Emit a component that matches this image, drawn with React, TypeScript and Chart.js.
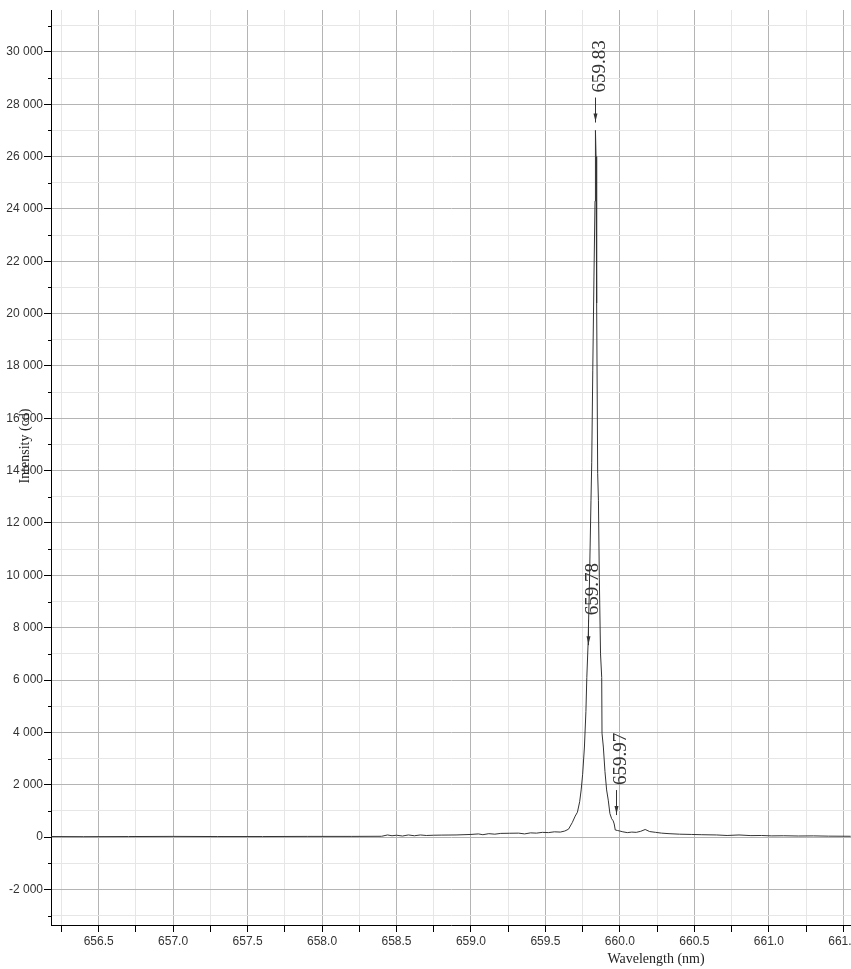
import { useEffect, useRef } from 'react';
import { Chart, registerables } from 'chart.js';

Chart.register(...registerables);

// Spectrum (wavelength in nm, intensity in counts)
const wavelengths = [
  656.18, 656.4, 656.7, 657.0, 657.3, 657.6, 657.9, 658.2, 658.4, 658.44,
  658.47, 658.5, 658.54, 658.58, 658.62, 658.66, 658.7, 658.75, 658.8, 658.9,
  659.0, 659.05, 659.08, 659.12, 659.16, 659.2, 659.26, 659.32, 659.36, 659.4,
  659.44, 659.48, 659.52, 659.56, 659.6, 659.63, 659.655, 659.68, 659.7, 659.715,
  659.73, 659.74, 659.75, 659.762, 659.772, 659.778, 659.786, 659.795, 659.806, 659.811,
  659.818, 659.826, 659.833, 659.836, 659.84, 659.844, 659.851, 659.856, 659.862, 659.87,
  659.878, 659.88, 659.889, 659.9, 659.911, 659.922, 659.933, 659.945, 659.955, 659.962,
  659.969, 659.985, 660.0, 660.02, 660.05, 660.08, 660.11, 660.14, 660.17, 660.2,
  660.24, 660.28, 660.33, 660.4, 660.48, 660.55, 660.65, 660.72, 660.8, 660.88,
  660.95, 661.02, 661.1, 661.2, 661.3, 661.4, 661.55,
];
const intensities = [
  20, 15, 20, 25, 20, 20, 25, 25, 30, 80,
  50, 70, 40, 80, 50, 80, 60, 70, 75, 80,
  100, 120, 90, 130, 110, 140, 145, 150, 120, 160,
  150, 180, 170, 200, 190, 230, 300, 550, 800, 950,
  1350, 1800, 2400, 3440, 4800, 6100, 7300, 9500, 12870, 14300,
  17840, 21400, 24300, 27000, 26000, 20400, 13900, 12870, 9930, 7000,
  6100, 3970, 3440, 2500, 1800, 1410, 900, 700, 620, 500,
  270, 250, 230, 200, 170, 190, 180, 220, 290, 210,
  180, 150, 130, 110, 100, 90, 80, 60, 80, 55,
  60, 45, 50, 40, 45, 35, 30,
];

// Peak markers
const peakLabels = ['659.83', '659.78', '659.97'];
const peakWavelengths = [659.833, 659.786, 659.972];
const peakIntensities = [27300, 7330, 840];

// Axes
const xMin = 656.18;
const xMax = 661.552;
const xStep = 0.25;
const xLabelStep = 0.5;
const yMin = -3360;
const yMax = 31600;
const yStep = 1000;
const yLabelStep = 2000;

const xTitle = 'Wavelength (nm)';
const yTitle = 'Intensity (cd)';

const MAJOR_GRID = '#b4b4b4';
const MINOR_GRID = '#e6e6e6';

function isMultiple(v: number, step: number) {
  const r = v / step;
  return Math.abs(r - Math.round(r)) < 1e-6;
}

function formatThousands(v: number) {
  const sign = v < 0 ? '-' : '';
  const a = Math.abs(Math.round(v));
  if (a < 1000) return sign + String(a);
  const th = Math.floor(a / 1000);
  const rest = String(a % 1000).padStart(3, '0');
  return sign + th + ' ' + rest;
}

function stepTicks(scale: any, step: number) {
  const out: { value: number }[] = [];
  const k0 = Math.ceil(scale.min / step - 1e-9);
  const k1 = Math.floor(scale.max / step + 1e-9);
  for (let k = k0; k <= k1; k++) out.push({ value: Math.round(k * step * 1000) / 1000 });
  scale.ticks = out;
}

const overlayPlugin = {
  id: 'overlay',
  afterDatasetsDraw(chart: any) {
    const ctx = chart.ctx as CanvasRenderingContext2D;
    const xs = chart.scales.x;
    const ys = chart.scales.y;
    const area = chart.chartArea;
    ctx.save();
    // minor y ticks (short)
    ctx.strokeStyle = '#000';
    ctx.lineWidth = 1;
    ys.ticks.forEach((t: any) => {
      if (!isMultiple(t.value, yLabelStep)) {
        const py = Math.round(ys.getPixelForValue(t.value)) + 0.5;
        ctx.beginPath();
        ctx.moveTo(area.left - 3, py);
        ctx.lineTo(area.left, py);
        ctx.stroke();
      }
    });

    // peak markers
    const arrowLen = 25;
    const gap = 5;
    peakLabels.forEach((label, i) => {
      const px = Math.round(xs.getPixelForValue(peakWavelengths[i])) + 0.5;
      const py = ys.getPixelForValue(peakIntensities[i]);
      const top = py - arrowLen;
      ctx.strokeStyle = '#333';
      ctx.fillStyle = '#333';
      ctx.lineWidth = 1;
      ctx.beginPath();
      ctx.moveTo(px, top);
      ctx.lineTo(px, py);
      ctx.stroke();
      ctx.beginPath();
      ctx.moveTo(px - 2, py - 9);
      ctx.lineTo(px + 2, py - 9);
      ctx.lineTo(px, py - 1);
      ctx.closePath();
      ctx.fill();
      ctx.save();
      ctx.translate(px + 5, top - gap);
      ctx.rotate(-Math.PI / 2);
      ctx.font = '19px "Liberation Serif", serif';
      ctx.textAlign = 'left';
      ctx.textBaseline = 'middle';
      ctx.fillStyle = '#333';
      ctx.fillText(label, 0, 0);
      ctx.restore();
    });

    // axis titles
    ctx.fillStyle = '#222';
    ctx.font = '14px "Liberation Serif", serif';
    ctx.textAlign = 'center';
    ctx.textBaseline = 'middle';
    ctx.fillText(xTitle, 656, 959);
    ctx.save();
    ctx.translate(25, 446);
    ctx.rotate(-Math.PI / 2);
    ctx.fillText(yTitle, 0, 0);
    ctx.restore();

    ctx.restore();
  },
};

export default function App() {
  const ref = useRef<HTMLCanvasElement | null>(null);

  useEffect(() => {
    document.body.style.margin = '0';
    const canvas = ref.current;
    if (!canvas) return;
    const points = wavelengths.map((w, i) => ({ x: w, y: intensities[i] }));
    const chart = new Chart(canvas, {
      type: 'scatter',
      data: {
        datasets: [
          {
            data: points,
            showLine: true,
            borderColor: '#333',
            borderWidth: 1,
            pointRadius: 0,
            tension: 0,
          },
        ],
      },
      options: {
        responsive: false,
        animation: false,
        devicePixelRatio: 1,
        layout: { padding: { top: 10, right: 0, bottom: 0, left: 0 } },
        plugins: {
          legend: { display: false },
          tooltip: { enabled: false },
        },
        scales: {
          x: {
            type: 'linear',
            min: xMin,
            max: xMax,
            afterBuildTicks: (s: any) => stepTicks(s, xStep),
            afterFit: (s: any) => {
              s.height = 44;
              s.paddingLeft = 0;
              s.paddingRight = 0;
            },
            border: { display: true, color: '#000', width: 1 },
            grid: {
              color: (c: any) => (c.tick && isMultiple(c.tick.value, xLabelStep) ? MAJOR_GRID : MINOR_GRID),
              tickColor: '#000',
              tickLength: 7,
            },
            ticks: {
              autoSkip: false,
              maxRotation: 0,
              minRotation: 0,
              padding: 2,
              color: '#333',
              font: { family: '"Liberation Sans", Arial, sans-serif', size: 12 },
              callback: (v: any) => (isMultiple(Number(v), xLabelStep) ? Number(v).toFixed(1) : ''),
            },
          },
          y: {
            type: 'linear',
            min: yMin,
            max: yMax,
            afterBuildTicks: (s: any) => stepTicks(s, yStep),
            afterFit: (s: any) => {
              s.width = 51;
              s.paddingTop = 0;
              s.paddingBottom = 0;
            },
            border: { display: true, color: '#000', width: 1 },
            grid: {
              color: (c: any) => (c.tick && isMultiple(c.tick.value, yLabelStep) ? MAJOR_GRID : MINOR_GRID),
              tickColor: (c: any) => (c.tick && isMultiple(c.tick.value, yLabelStep) ? '#000' : 'rgba(0,0,0,0)'),
              tickLength: 7,
            },
            ticks: {
              autoSkip: false,
              padding: 1,
              color: '#333',
              font: { family: '"Liberation Sans", Arial, sans-serif', size: 12 },
              callback: (v: any) => (isMultiple(Number(v), yLabelStep) ? formatThousands(Number(v)) : ''),
            },
          },
        },
      },
      plugins: [overlayPlugin],
    });
    return () => chart.destroy();
  }, []);

  return <canvas ref={ref} width={851} height={969} style={{ display: 'block' }} />;
}
